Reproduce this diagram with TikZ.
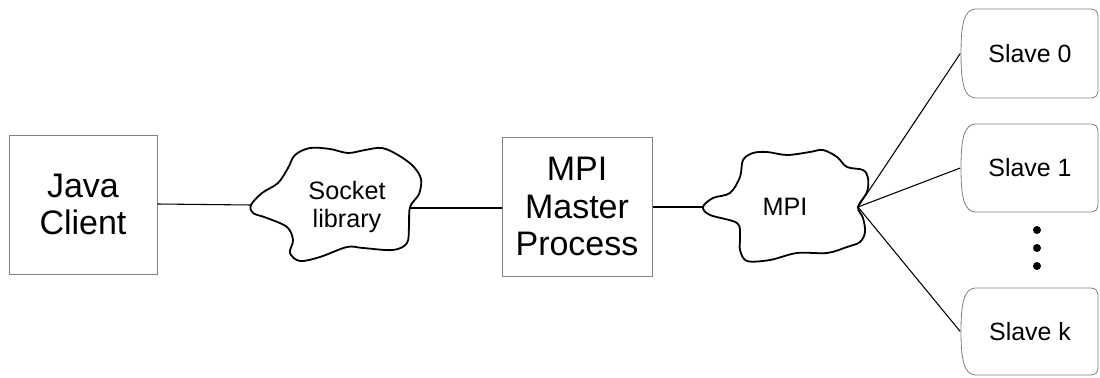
\documentclass[tikz,border=0pt]{standalone}
\usepackage{fontspec}
\setmainfont{Liberation Sans}
\definecolor{boxgray}{RGB}{128,128,128}
\begin{document}
\begin{tikzpicture}[x=0.75pt,y=-0.75pt,
  gbox/.style={draw=boxgray, line width=0.75pt, inner sep=0pt, align=center,
    font=\fontsize{25.5}{28.3}\selectfont},
  cloudline/.style={draw=black, line width=1.35pt, line join=round},
  cloudtext/.style={inner sep=0pt, align=center, font=\fontsize{18.9}{21}\selectfont},
  slavebg/.style={draw=boxgray, line width=0.6pt},
  slavetext/.style={inner sep=0pt, minimum width=104.25pt, minimum height=66.75pt,
    font=\fontsize{18.7}{21}\selectfont},
  link/.style={draw=black, line width=0.8pt},
  dot/.style={circle, fill=black, inner sep=0pt, minimum size=6pt}]
\useasboundingbox (0,0) rectangle (1100,378);

% Java Client
\node[gbox, minimum width=111pt, minimum height=104.25pt] (java) at (83,204.5) {Java\\Client};

% MPI master
\node[gbox, minimum width=112.5pt, minimum height=104.25pt] (master) at (577,206.5) {MPI\\Master\\Process};

% Socket cloud
\draw[cloudline] plot[smooth cycle, tension=0.55] coordinates {
 (251,205) (262,193) (278,183) (288,168) (295,155) (310,148) (330,149) (348,153)
 (365,150) (382,148) (398,155) (413,166) (421,179) (419,194) (410,207) (409,226)
 (407,243) (393,250) (363,248) (347,247) (320,257) (300,261) (290,253) (293,240)
 (287,227) (267,218) (253,213)};
\coordinate (sockL) at (251,205);
\coordinate (sockR) at (410,208);
\node[cloudtext] (socket) at (347,207) {Socket\\library};

% MPI cloud
\draw[cloudline] plot[smooth cycle, tension=0.55] coordinates {
 (703,207) (713,198) (730,193) (740,177) (743,160) (753,153) (767,152) (787,155)
 (810,152) (823,150) (837,157) (847,167) (863,170) (868,178) (867,192) (858,207)
 (863,218) (865,232) (860,242) (847,247) (827,253) (797,253) (770,260) (747,261)
 (740,250) (740,237) (737,223) (710,215)};
\coordinate (mpiL) at (703,207);
\coordinate (mpiR) at (858,207);
\node[cloudtext] (mpi) at (785,207) {MPI};

% Slaves
\foreach \t/\b in {9/98, 124/212, 288/375}{
  \draw[slavebg] (975,\t) -- (1089,\t) .. controls (1096,\t) and (1098,\t+2) .. (1098,\t+9)
    -- (1098,\b-9) .. controls (1098,\b-2) and (1096,\b) .. (1089,\b) -- (975,\b)
    .. controls (964,\b-1) and (961,\b-15) .. (961,{(\t+\b)/2})
    .. controls (961,\t+15) and (964,\t+1) .. (975,\t) -- cycle;
}
\node[slavetext] (s0) at (1030,53.5) {Slave 0};
\node[slavetext] (s1) at (1030,168) {Slave 1};
\node[slavetext] (sk) at (1030,331.5) {Slave k};

\node[dot] (d1) at (1037,230) {};
\node[dot] (d2) at (1037,248) {};
\node[dot] (d3) at (1037,266) {};

% connectors
\draw[link] (java.east |- 0,204) -- (sockL);
\draw[link] (sockR) -- (master.west |- sockR);
\draw[link] (master.east |- 0,207) -- (mpiL);
\draw[link] (mpiR) -- (s0.west);
\draw[link] (mpiR) -- (s1.west);
\draw[link] (mpiR) -- (sk.west);
\end{tikzpicture}
\end{document}
